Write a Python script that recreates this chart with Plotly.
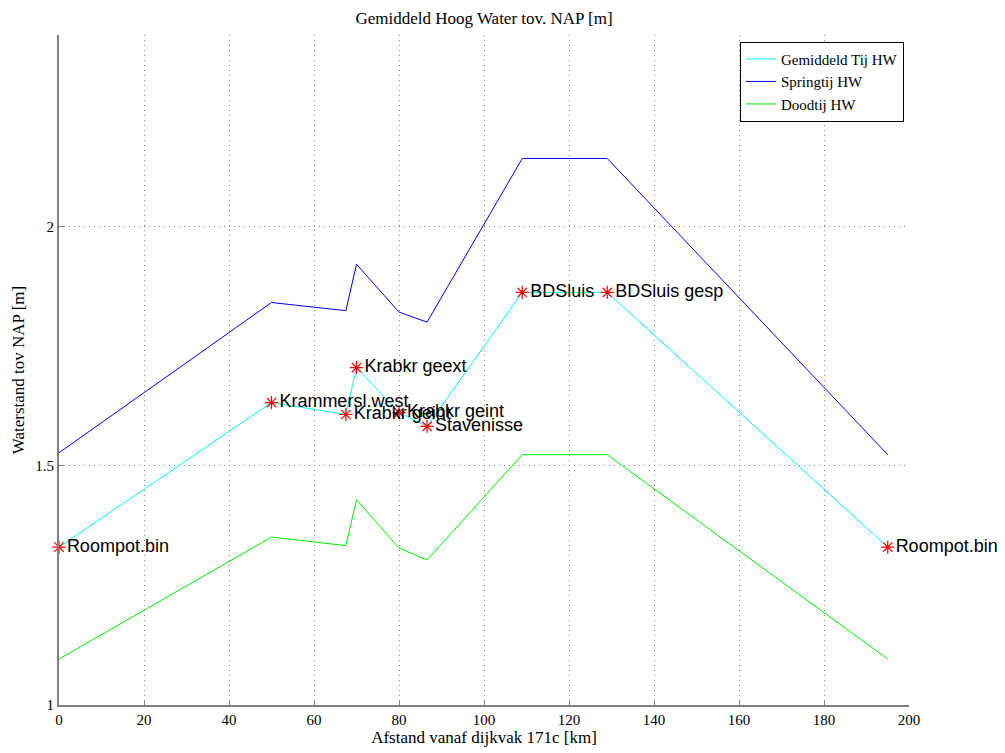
import plotly.graph_objects as go

# Data
afstand = [0, 50, 67.5, 70, 80, 86.6, 109, 129, 195]
gemiddeld_tij = [1.330, 1.632, 1.607, 1.705, 1.611, 1.582, 1.862, 1.862, 1.330]
springtij = [1.527, 1.841, 1.824, 1.921, 1.821, 1.800, 2.142, 2.142, 1.523]
doodtij = [1.096, 1.351, 1.333, 1.429, 1.328, 1.303, 1.523, 1.523, 1.096]
stations = ["Roompot.bin", "Krammersl.west", "Krabkr geint", "Krabkr geext",
            "Krabkr geint", "Stavenisse", "BDSluis", "BDSluis gesp", "Roompot.bin"]

x_ticks = list(range(0, 201, 20))
y_ticks = [1, 1.5, 2]

serif = "Liberation Serif, Times New Roman, serif"
sans = "Liberation Sans, Arial, sans-serif"

fig = go.Figure()
fig.add_trace(go.Scatter(x=afstand, y=gemiddeld_tij, mode="lines", name="Gemiddeld Tij HW",
                         line=dict(color="#00ffff", width=1)))
fig.add_trace(go.Scatter(x=afstand, y=springtij, mode="lines", name="Springtij HW",
                         line=dict(color="#0000ff", width=1)))
fig.add_trace(go.Scatter(x=afstand, y=doodtij, mode="lines", name="Doodtij HW",
                         line=dict(color="#00ee00", width=1)))
fig.add_trace(go.Scatter(x=afstand, y=gemiddeld_tij, mode="markers+text", showlegend=False,
                         marker=dict(symbol="asterisk-open", size=11, color="red",
                                     line=dict(color="red", width=1.2)),
                         text=stations, textposition="middle right",
                         textfont=dict(family=sans, size=18, color="black"),
                         cliponaxis=False))

grid_dash = "1px,4px"

# page offset of 8px (body margin) is compensated in the margins
fig.update_layout(
    width=1005, height=753,
    paper_bgcolor="white", plot_bgcolor="white",
    margin=dict(l=51, r=104, t=27, b=56, autoexpand=False),
    title=dict(text="Gemiddeld Hoog Water tov. NAP [m]", x=476 / 1005, xanchor="center",
               y=1 - 10 / 753, yanchor="middle",
               font=dict(family=serif, size=17, color="black")),
    legend=dict(x=0.994, y=0.99, xanchor="right", yanchor="top",
                bgcolor="white", bordercolor="black", borderwidth=1,
                font=dict(family=serif, size=15, color="black"),
                tracegroupgap=0, itemwidth=30),
    xaxis=dict(range=[0, 200], tickvals=x_ticks, ticks="inside", ticklen=5,
               tickcolor="#808080", showline=True, linecolor="#808080", linewidth=2,
               showgrid=True, gridcolor="#888888", griddash=grid_dash, gridwidth=1,
               zeroline=False, automargin=False,
               tickfont=dict(family=serif, size=15, color="black"),
               title=dict(text="Afstand vanaf dijkvak 171c [km]", standoff=3,
                          font=dict(family=serif, size=17, color="black"))),
    yaxis=dict(range=[1, 2.4], tickvals=y_ticks, ticktext=["1", "1.5", "2"],
               ticks="inside", ticklen=5,
               tickcolor="#808080", showline=True, linecolor="#808080", linewidth=2,
               showgrid=True, gridcolor="#888888", griddash=grid_dash, gridwidth=1,
               zeroline=False, automargin=False,
               tickfont=dict(family=serif, size=15, color="black"),
               title=dict(text="Waterstand tov NAP [m]", standoff=6,
                          font=dict(family=serif, size=17, color="black"))),
)

fig.write_html("out.html")
